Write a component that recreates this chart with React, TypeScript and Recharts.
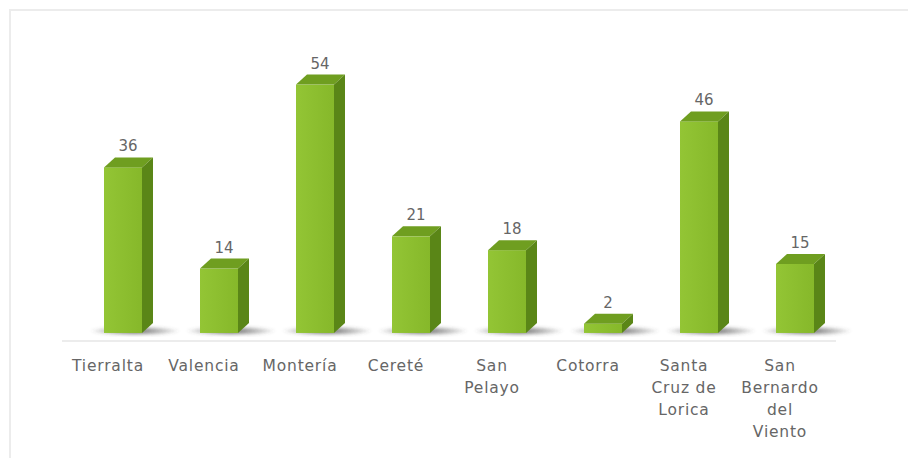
import { BarChart, Bar, XAxis, YAxis, LabelList } from 'recharts';

const categories = [
  'Tierralta',
  'Valencia',
  'Montería',
  'Cereté',
  'San\nPelayo',
  'Cotorra',
  'Santa\nCruz de\nLorica',
  'San\nBernardo\ndel\nViento',
];
const values = [36, 14, 54, 21, 18, 2, 46, 15];

const data = categories.map((name, i) => ({ name, value: values[i] }));

const DEPTH_X = 11;
const DEPTH_Y = 10;
const SHIFT = 13;
const FONT = "'DejaVu Sans', sans-serif";

function Bar3D(props: any) {
  const { x, y, width, height } = props;
  const fx = x + SHIFT;
  const bottom = y + height;
  return (
    <g>
      <ellipse cx={fx + width / 2 + 12} cy={bottom - 2} rx={width / 2 + 26} ry={5} fill="url(#shadowGrad)" filter="url(#blur)" />
      <rect x={fx} y={y} width={width} height={height} fill="url(#frontGrad)" />
      <polygon
        points={`${fx},${y} ${fx + DEPTH_X},${y - DEPTH_Y} ${fx + width + DEPTH_X},${y - DEPTH_Y} ${fx + width},${y}`}
        fill="#6f9e20"
      />
      <polygon
        points={`${fx + width},${y} ${fx + width + DEPTH_X},${y - DEPTH_Y} ${fx + width + DEPTH_X},${bottom - DEPTH_Y} ${fx + width},${bottom}`}
        fill="#5a8617"
      />
    </g>
  );
}

function ValueLabel(props: any) {
  const { x, y, width, value } = props;
  return (
    <text
      x={x + SHIFT + width / 2 + 5}
      y={y - DEPTH_Y - 6}
      textAnchor="middle"
      fill="#666"
      fontSize={15}
      fontFamily={FONT}
    >
      {value}
    </text>
  );
}

function CategoryTick(props: any) {
  const { x, y, payload } = props;
  const lines = String(payload.value).split('\n');
  return (
    <text
      x={x - 2}
      y={y + 22}
      textAnchor="middle"
      fill="#666"
      fontSize={15.5}
      letterSpacing={0.8}
      fontFamily={FONT}
    >
      {lines.map((line, i) => (
        <tspan key={i} x={x - 2} dy={i === 0 ? 0 : 22}>
          {line}
        </tspan>
      ))}
    </text>
  );
}

export default function App() {
  return (
    <div
      style={{
        position: 'absolute',
        left: 0,
        top: 0,
        width: 908,
        height: 458,
        background: '#fff',
        overflow: 'hidden',
      }}
    >
      <div
        style={{
          position: 'absolute',
          left: 9,
          top: 9,
          right: -2,
          bottom: -2,
          borderTop: '2px solid #ececec',
          borderLeft: '2px solid #ececec',
        }}
      />
      <BarChart
        width={908}
        height={458}
        data={data}
        margin={{ top: 57, right: 72, bottom: 0, left: 62 }}
        barSize={38}
        style={{ position: 'absolute', left: 0, top: 0 }}
      >
        <defs>
          <linearGradient id="frontGrad" x1="0" y1="0" x2="1" y2="0">
            <stop offset="0%" stopColor="#93c535" />
            <stop offset="100%" stopColor="#86b82a" />
          </linearGradient>
          <radialGradient id="shadowGrad">
            <stop offset="0%" stopColor="#444" stopOpacity={0.85} />
            <stop offset="100%" stopColor="#444" stopOpacity={0} />
          </radialGradient>
          <filter id="blur">
            <feGaussianBlur stdDeviation="1.5" />
          </filter>
        </defs>
        <YAxis hide domain={[-1.75, 60]} />
        <XAxis
          dataKey="name"
          height={117}
          interval={0}
          padding={{ left: 0, right: 6 }}
          axisLine={{ stroke: '#d9d9d9' }}
          tickLine={false}
          tick={<CategoryTick />}
        />
        <Bar dataKey="value" shape={<Bar3D />} isAnimationActive={false}>
          <LabelList dataKey="value" content={<ValueLabel />} />
        </Bar>
      </BarChart>
    </div>
  );
}
